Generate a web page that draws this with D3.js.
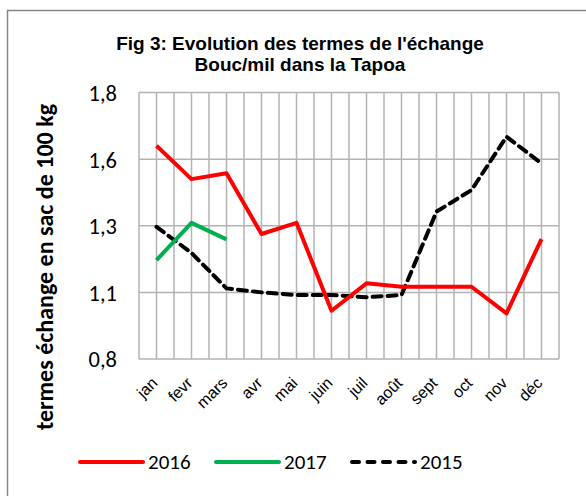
<!DOCTYPE html>
<html><head><meta charset="utf-8">
<script src="https://cdn.jsdelivr.net/npm/d3@7"></script>
<style>body{margin:0;background:#fff}svg{display:block}</style>
</head><body>
<svg id="c" width="586" height="496"></svg>
<script>
const months = ["jan","fevr","mars","avr","mai","juin","juil","août","sept","oct","nov","déc"];
const s2016 = [1.600,1.475,1.497,1.269,1.311,0.981,1.084,1.071,1.071,1.071,0.971,1.250];
const s2017 = [1.171,1.311,1.249];
const s2015 = [1.296,1.198,1.065,1.050,1.040,1.040,1.032,1.040,1.353,1.434,1.634,1.534];
const yTicks = [0.8,1.05,1.3,1.55,1.8];
const yTickLabels = ["0,8","1,1","1,3","1,6","1,8"];
const series = [
  {name:"2016", values:s2016, color:"#ff0000", dash:null},
  {name:"2017", values:s2017, color:"#00b050", dash:null},
  {name:"2015", values:s2015, color:"#000000", dash:"9,6"}
];

const svg = d3.select("#c");
svg.append("rect").attr("x",7.5).attr("y",10.5).attr("width",600).attr("height",500)
  .attr("fill","none").attr("stroke","#868686").attr("stroke-width",1.5);

const L=139, R=559, T=92.5, B=359;
const x = d3.scaleBand().domain(months).range([L,R]);
const y = d3.scaleLinear().domain([0.8,1.8]).range([B,T]);

const g = svg.append("g");
const vx = [];
months.forEach((m,i)=>{ vx.push(x(m)); vx.push(x(m)+x.bandwidth()/2); });
vx.push(R);
g.selectAll("line.v").data(vx).enter().append("line")
  .attr("x1",d=>d).attr("x2",d=>d).attr("y1",T).attr("y2",B)
  .attr("stroke","#b3b3b3").attr("stroke-width",1.5);
g.selectAll("line.h").data(yTicks).enter().append("line")
  .attr("x1",L).attr("x2",R).attr("y1",d=>y(d)).attr("y2",d=>y(d))
  .attr("stroke","#b3b3b3").attr("stroke-width",1.5);

const yAxis = d3.axisLeft(y).tickValues(yTicks).tickFormat((d,i)=>yTickLabels[i]).tickSize(0).tickPadding(22);
const ya = svg.append("g").attr("transform",`translate(${L},0)`).call(yAxis);
ya.select(".domain").remove();
ya.selectAll("text").attr("font-family","Carlito, 'Liberation Sans', Arial, sans-serif").attr("font-size",22.5).attr("fill","#000").attr("dy","0.35em");

const xAxis = d3.axisBottom(x).tickSize(0).tickPadding(0);
const xa = svg.append("g").attr("transform",`translate(0,${B})`).call(xAxis);
xa.select(".domain").remove();
xa.selectAll("text")
  .attr("font-family","'Liberation Sans', Arial, sans-serif").attr("font-size",16).attr("fill","#000")
  .attr("text-anchor","end").attr("dy",0).attr("y",0)
  .attr("transform","translate(2,25) rotate(-45)");

const line = d3.line().x((d,i)=>x(months[i])+x.bandwidth()/2).y(d=>y(d));
series.slice().reverse().forEach(s=>{
  svg.append("path").datum(s.values).attr("d",line)
    .attr("fill","none").attr("stroke",s.color).attr("stroke-width",4)
    .attr("stroke-dasharray",s.dash).attr("stroke-linejoin","round")
    .attr("stroke-linecap",s.dash?"round":"butt");
});

const title = svg.append("text").attr("x",300).attr("y",50).attr("text-anchor","middle")
  .attr("font-family","'Liberation Sans', Arial, sans-serif").attr("font-weight","bold").attr("font-size",19).attr("fill","#000");
title.append("tspan").attr("x",300).text("Fig 3: Evolution des termes de l'échange");
title.append("tspan").attr("x",300).attr("dy",21).text("Bouc/mil dans la Tapoa");

svg.append("text").attr("transform","translate(53,267) rotate(-90)").attr("text-anchor","middle")
  .attr("font-family","Carlito, 'Liberation Sans', Arial, sans-serif").attr("font-weight","bold").attr("font-size",24).attr("fill","#000")
  .text("termes  échange en sac de 100 kg");

const legX = [80,216,352];
const leg = svg.append("g");
series.forEach((s,i)=>{
  leg.append("line").attr("x1",legX[i]).attr("x2",legX[i]+63).attr("y1",462).attr("y2",462)
    .attr("stroke",s.color).attr("stroke-width",4).attr("stroke-linecap","round")
    .attr("stroke-dasharray",s.dash ? "7,8.5" : null);
  leg.append("text").attr("x",legX[i]+68).attr("y",462).attr("dy","0.35em")
    .attr("font-family","Carlito, 'Liberation Sans', Arial, sans-serif").attr("font-size",21).attr("fill","#000")
    .text(s.name);
});
</script>
</body></html>
